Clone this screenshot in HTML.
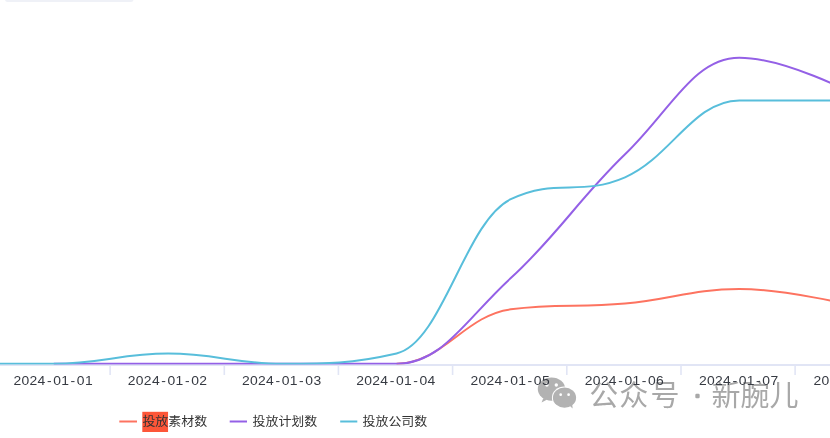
<!DOCTYPE html>
<html lang="zh-CN">
<head>
<meta charset="utf-8">
<title>投放趋势</title>
<style>
html,body{margin:0;padding:0;background:#fff;}
body{width:830px;height:438px;overflow:hidden;position:relative;font-family:"Liberation Sans","Noto Sans CJK SC",sans-serif;}
svg{position:absolute;left:0;top:0;display:block;}
.lbl text{font-family:"Liberation Sans","Noto Sans CJK SC",sans-serif;font-size:13px;fill:#363a42;text-anchor:middle;letter-spacing:0.3px;}
.leg text{font-family:"Liberation Sans","Noto Sans CJK SC",sans-serif;font-size:12.2px;fill:#333;}
.wm text{font-family:"Liberation Sans","Noto Sans CJK SC",sans-serif;font-size:29px;font-weight:400;fill:#a8a8a8;}
</style>
</head>
<body>
<svg width="830" height="438" viewBox="0 0 830 438">
<rect x="5" y="-3" width="128.500" height="4.9" rx="2.5" fill="#eff1f7"/>
<g stroke="#e1e5f5" stroke-width="1.6" fill="none">
<line x1="0" y1="365" x2="830" y2="365" stroke-width="2"/>
<line x1="110.1" y1="365" x2="110.1" y2="375"/><line x1="224.3" y1="365" x2="224.3" y2="375"/><line x1="338.4" y1="365" x2="338.4" y2="375"/><line x1="452.6" y1="365" x2="452.6" y2="375"/><line x1="566.8" y1="365" x2="566.8" y2="375"/><line x1="681.0" y1="365" x2="681.0" y2="375"/><line x1="795.1" y1="365" x2="795.1" y2="375"/>
</g>
<g class="wm">
<g fill="#b2b2b2">
<path d="M543.2,398.2 L541.6,402.6 L547.2,399.6 Z"/>
<ellipse cx="551.5" cy="389.1" rx="13.7" ry="11.7"/>
<circle cx="546.9" cy="385" r="1.7" fill="#fff"/>
<circle cx="556.3" cy="385" r="1.7" fill="#fff"/>
<ellipse cx="564.5" cy="397.7" rx="12.6" ry="11.1" fill="#fff"/>
<path d="M569.2,405.2 L572.6,408.6 L572.2,403.6 Z"/>
<ellipse cx="564.5" cy="397.7" rx="11.6" ry="10.1"/>
<circle cx="560.7" cy="394.7" r="1.35" fill="#fff"/>
<circle cx="568.6" cy="394.7" r="1.35" fill="#fff"/>
</g>
<text x="589.2 619.3 650.6" y="405.6">公众号</text>
<text x="694.5" y="401" style="font-size:18px;stroke:#a8a8a8;stroke-width:2.6px;stroke-linejoin:round">·</text>
<text x="711.4" y="406">新腕儿</text>
</g>
<clipPath id="plot"><rect x="0" y="0" width="830" height="364.500"/></clipPath>
<g fill="none" stroke-width="2" stroke-linecap="butt" stroke-linejoin="round" clip-path="url(#plot)">
<path stroke="#fd7360" d="M396.55,363.80 C442.25,363.80 465.10,315.00 510.80,309.30 C556.50,303.60 579.35,307.67 625.05,303.60 C670.75,299.53 693.60,288.95 739.30,288.95 C785.00,288.95 853.55,305.80 853.55,305.80"/>
<path stroke="#9460e6" d="M53.80,363.80 C99.50,363.80 122.35,363.80 168.05,363.80 C213.75,363.80 236.60,363.80 282.30,363.80 C328.00,363.80 350.85,363.80 396.55,363.80 C442.25,363.80 465.10,320.00 510.80,278.10 C556.50,236.20 579.35,198.38 625.05,154.30 C670.75,110.22 693.60,57.70 739.30,57.70 C785.00,57.70 853.55,93.90 853.55,93.90"/>
<path stroke="#58bedb" d="M-60.45,363.80 C-60.45,363.80 8.10,363.80 53.80,363.80 C99.50,363.80 122.35,353.60 168.05,353.60 C213.75,353.60 236.60,363.80 282.30,363.80 C328.00,363.80 350.85,363.80 396.55,353.40 C442.25,343.00 465.10,221.10 510.80,199.20 C556.50,177.30 579.35,197.06 625.05,177.30 C670.75,157.54 693.60,100.40 739.30,100.40 C785.00,100.40 853.55,100.40 853.55,100.40"/>
</g>
<g class="lbl"><text transform="translate(53.2,385.3) scale(1.07,1)" dx="0 0 0 0 1.2 1.2 0 1.2 1.2 0">2024-01-01</text><text transform="translate(167.5,385.3) scale(1.07,1)" dx="0 0 0 0 1.2 1.2 0 1.2 1.2 0">2024-01-02</text><text transform="translate(281.7,385.3) scale(1.07,1)" dx="0 0 0 0 1.2 1.2 0 1.2 1.2 0">2024-01-03</text><text transform="translate(395.9,385.3) scale(1.07,1)" dx="0 0 0 0 1.2 1.2 0 1.2 1.2 0">2024-01-04</text><text transform="translate(510.2,385.3) scale(1.07,1)" dx="0 0 0 0 1.2 1.2 0 1.2 1.2 0">2024-01-05</text><text transform="translate(624.4,385.3) scale(1.07,1)" dx="0 0 0 0 1.2 1.2 0 1.2 1.2 0">2024-01-06</text><text transform="translate(738.7,385.3) scale(1.07,1)" dx="0 0 0 0 1.2 1.2 0 1.2 1.2 0">2024-01-07</text><text transform="translate(853.2,385.3) scale(1.07,1)" dx="0 0 0 0 1.2 1.2 0 1.2 1.2 0">2024-01-08</text></g>
<g class="leg">
<line x1="119.300" y1="421.5" x2="137" y2="421.5" stroke="#fd7360" stroke-width="2"/>
<rect x="142.300" y="411.800" width="25.750" height="20.200" fill="#fd5638"/>
<text transform="translate(142.400,425.900) scale(1.062,1)">投放素材数</text>
<line x1="229.700" y1="421.5" x2="247" y2="421.5" stroke="#9460e6" stroke-width="2"/>
<text transform="translate(252.500,425.900) scale(1.062,1)">投放计划数</text>
<line x1="340.200" y1="421.500" x2="357.300" y2="421.500" stroke="#58bedb" stroke-width="2"/>
<text transform="translate(362.500,425.900) scale(1.062,1)">投放公司数</text>
</g>
</svg>
</body>
</html>
